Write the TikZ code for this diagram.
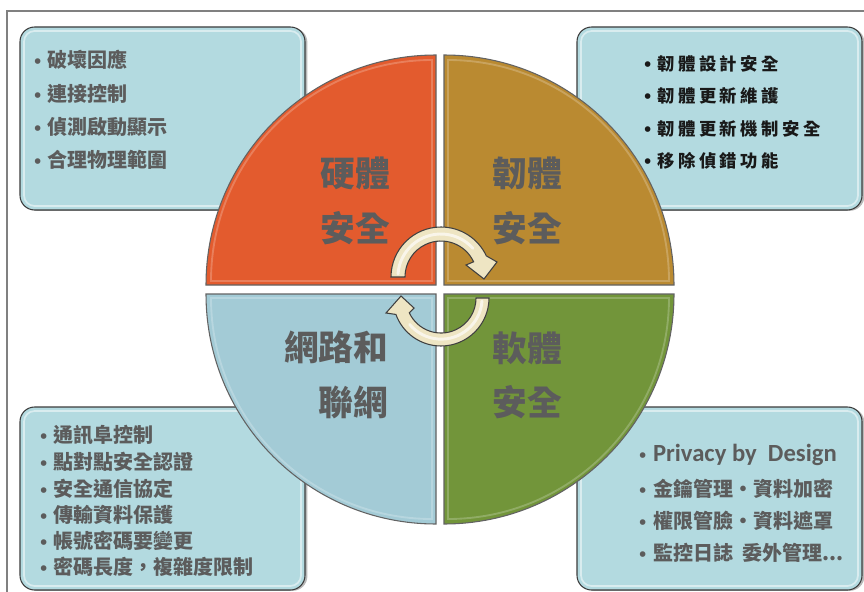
\documentclass[tikz,border=0pt]{standalone}
\usepackage{fontspec}
\setmainfont{Noto Sans CJK TC}
\newfontfamily\cjk{Noto Sans CJK TC}
\newfontfamily\lat{Carlito}
\newfontfamily\dvs{DejaVu Sans}
\usetikzlibrary{shadows}
\definecolor{boxfill}{HTML}{B3DAE0}
\definecolor{boxline}{HTML}{3C3C3C}
\definecolor{txtgray}{HTML}{5C5C5C}
\definecolor{qorange}{HTML}{E35B2E}
\definecolor{qgold}{HTML}{BA8A31}
\definecolor{qblue}{HTML}{A3CBD6}
\definecolor{qgreen}{HTML}{72953A}
\definecolor{arrowfill}{HTML}{EEE5C3}
\definecolor{framec}{HTML}{808080}
\newcommand\bu{{\dvs\fontsize{12}{12}\selectfont\raisebox{0.3pt}{•}}}
\tikzset{
  infobox/.style={draw=boxline, line width=0.8pt, fill=boxfill, rounded corners=11pt,
    minimum width=213.75pt, minimum height=137.25pt, inner sep=0pt,
    drop shadow={opacity=0.55, shadow xshift=1.8pt, shadow yshift=-0.6pt}},
  gloss/.style={draw=white, line width=1.3pt, opacity=0.5, rounded corners=8pt},
  itemtxt/.style={anchor=west, inner sep=0pt, text=txtgray, font=\cjk\bfseries\fontsize{15}{15}\selectfont},
  itemtr/.style={anchor=west, inner sep=0pt, text=black!90, font=\cjk\bfseries\fontsize{13}{13}\selectfont\addfontfeature{LetterSpace=20}},
  quad/.style={draw=boxline!80, line width=0.8pt},
  qgloss/.style={draw=white, line width=1.4pt, opacity=0.22},
  qlabel/.style={text=txtgray, inner sep=0pt, font=\cjk\bfseries\fontsize{26}{41}\selectfont},
  arrowsh/.style={draw=black!75, line width=0.8pt, fill=arrowfill},
  arrowgl/.style={draw=white, line width=2.2pt, opacity=0.65, line cap=round}
}
\begin{document}
\begin{tikzpicture}[x=0.75pt,y=-0.75pt]
\useasboundingbox (0,0) rectangle (864,592);
\fill[white] (0,0) rectangle (864,592);
% frame
\draw[framec, line width=0.9pt] (7,592) -- (7,11) -- (864,11);

% info boxes
\node[infobox] (boxTL) at (162.5,118.5) {};
\node[infobox] (boxTR) at (719.5,118.5) {};
\node[infobox] (boxBL) at (162.5,498.5) {};
\node[infobox] (boxBR) at (719.5,498.5) {};
\draw[gloss] (24,31) rectangle (301,206);
\draw[gloss] (581,31) rectangle (858,206);
\draw[gloss] (24,411) rectangle (301,586);
\draw[gloss] (581,411) rectangle (858,586);

% quadrants
\draw[quad, fill=qorange] (206,285) arc[start angle=180, end angle=270, radius=230] -- (436,285) -- cycle;
\draw[quad, fill=qgold] (444,55) arc[start angle=270, end angle=360, radius=230] -- (444,285) -- cycle;
\draw[quad, fill=qblue] (436,524) arc[start angle=90, end angle=180, radius=230] -- (436,294) -- cycle;
\draw[quad, fill=qgreen] (674,294) arc[start angle=0, end angle=90, radius=230] -- (444,294) -- cycle;
% glossy inner edges
\draw[qgloss] (211,281) arc[start angle=180, end angle=270, radius=221] -- (432,281) -- cycle;
\draw[qgloss] (448,60) arc[start angle=270, end angle=360, radius=221] -- (448,281) -- cycle;
\draw[qgloss] (432,519) arc[start angle=90, end angle=180, radius=221] -- (432,298) -- cycle;
\draw[qgloss] (669,298) arc[start angle=0, end angle=90, radius=221] -- (448,298) -- cycle;

% circular arrows
\draw[arrowsh] (391,277) arc[start angle=180, end angle=335, radius=50]
  -- (497,262) -- (484,279) -- (466,265) -- (473.6,261.8)
  arc[start angle=335, end angle=180, radius=36] -- cycle;
\draw[arrowgl] (398,274) arc[start angle=184, end angle=318, radius=43];
\draw[arrowsh] (489,298) arc[start angle=0, end angle=160, radius=48]
  -- (386,313) -- (401,296) -- (414,308) -- (409.3,312.8)
  arc[start angle=155, end angle=0, radius=35] -- cycle;
\draw[arrowgl] (482,301) arc[start angle=4, end angle=140, radius=41];

% quadrant labels
\node[qlabel, align=center] (lblHW) at (355,201) {硬體\\安全};
\node[qlabel, align=center] (lblFW) at (527,201) {韌體\\安全};
\node[qlabel, align=right] (lblNW) at (336,375) {網路和\\聯網};
\node[qlabel, align=center] (lblSW) at (527,375.5) {軟體\\安全};

% TL items
\node[itemtxt] (tl1) at (32.3,60) {\bu\hspace{3.9pt}破壞因應};
\node[itemtxt] (tl2) at (32.3,94) {\bu\hspace{3.9pt}連接控制};
\node[itemtxt] (tl3) at (32.3,127) {\bu\hspace{3.9pt}偵測啟動顯示};
\node[itemtxt] (tl4) at (32.3,160) {\bu\hspace{3.9pt}合理物理範圍};

% TR items
\node[itemtr] (tr1) at (642.3,64) {\bu\hspace{3.5pt}韌體設計安全};
\node[itemtr] (tr2) at (642.3,96) {\bu\hspace{3.5pt}韌體更新維護};
\node[itemtr] (tr3) at (642.3,129) {\bu\hspace{3.5pt}韌體更新機制安全};
\node[itemtr] (tr4) at (642.3,161) {\bu\hspace{3.5pt}移除偵錯功能};

% BL items
\node[itemtxt] (bl1) at (38.3,435) {\bu\hspace{3.9pt}通訊阜控制};
\node[itemtxt] (bl2) at (38.3,462) {\bu\hspace{3.9pt}點對點安全認證};
\node[itemtxt] (bl3) at (38.3,489) {\bu\hspace{3.9pt}安全通信協定};
\node[itemtxt] (bl4) at (38.3,515) {\bu\hspace{3.9pt}傳輸資料保護};
\node[itemtxt] (bl5) at (38.3,541) {\bu\hspace{3.9pt}帳號密碼要變更};
\node[itemtxt] (bl6) at (38.3,567) {\bu\hspace{3.9pt}密碼長度，複雜度限制};

% BR items
\node[itemtxt] (br1) at (637.3,455) {\bu\hspace{3.9pt}{\lat\fontsize{18.5}{18.5}\selectfont Privacy by\ \ Design}};
\node[itemtxt] (br2) at (637.3,489) {\bu\hspace{3.9pt}金鑰管理‧資料加密};
\node[itemtxt] (br3) at (637.3,521) {\bu\hspace{3.9pt}權限管臉‧資料遮罩};
\node[itemtxt] (br4) at (637.3,553) {\bu\hspace{3.9pt}監控日誌\ \ 委外管理...};
\end{tikzpicture}
\end{document}
